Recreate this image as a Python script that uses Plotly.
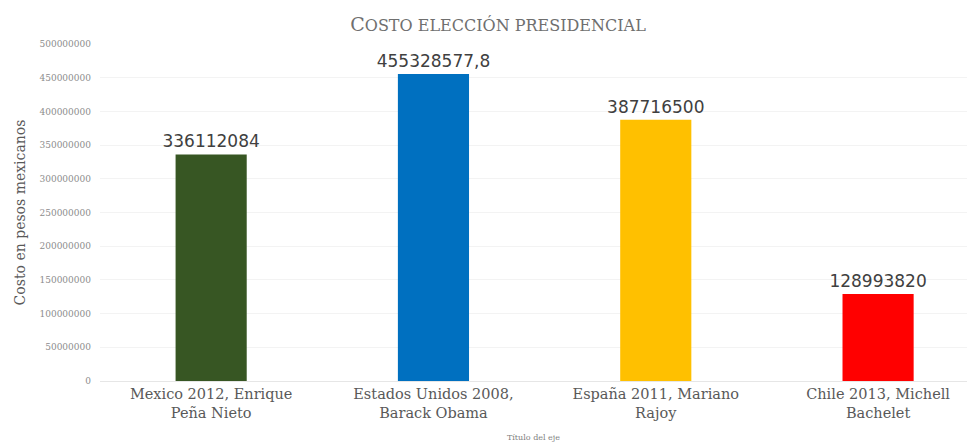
import plotly.graph_objects as go

categories = [
    "Mexico 2012, Enrique<br>Peña Nieto",
    "Estados Unidos 2008,<br>Barack Obama",
    "España 2011, Mariano<br>Rajoy",
    "Chile 2013, Michell<br>Bachelet",
]
costs = [336112084, 455328577.8, 387716500, 128993820]
bar_colors = ["#375623", "#0070C0", "#FFC000", "#FF0000"]
y_ticks = list(range(0, 500000001, 50000000))

SERIF = "DejaVu Serif, serif"


def fmt(v):
    s = f"{v:.1f}".rstrip("0").rstrip(".")
    return s.replace(".", ",")


labels = [fmt(v) for v in costs]

fig = go.Figure(
    go.Bar(
        x=list(range(len(categories))),
        y=costs,
        width=0.32,
        marker=dict(color=bar_colors, line=dict(width=0)),
        text=labels,
        textposition="outside",
        constraintext="none",
        cliponaxis=False,
        textfont=dict(family="DejaVu Sans, sans-serif", size=17, color="#404040"),
    )
)

fig.update_layout(
    width=967,
    height=447,
    margin=dict(l=100, r=0, t=44, b=66),
    paper_bgcolor="white",
    plot_bgcolor="white",
    showlegend=False,
    title=dict(
        text="C<span style='font-size:16px'>OSTO ELECCIÓN PRESIDENCIAL</span>",
        x=0.515,
        xanchor="center",
        y=0.945,
        yanchor="middle",
        font=dict(family=SERIF, size=19, color="#6f6f6f"),
    ),
    xaxis=dict(
        range=[-0.5, 3.4],
        tickvals=list(range(len(categories))),
        ticktext=categories,
        tickfont=dict(family=SERIF, size=14.5, color="#595959"),
        showgrid=False,
        showline=True,
        linecolor="#e6e6e6",
        ticks="",
        title=dict(
            text="Título del eje",
            font=dict(family=SERIF, size=8, color="#7f7f7f"),
            standoff=14,
        ),
    ),
    yaxis=dict(
        range=[0, 500000000],
        tickvals=y_ticks,
        ticktext=[str(v) for v in y_ticks],
        tickfont=dict(family=SERIF, size=9, color="#8c8c8c"),
        showgrid=True,
        gridcolor="#f3f3f3",
        zeroline=False,
        ticks="",
        ticklabelstandoff=8,
        title=dict(
            text="Costo en pesos mexicanos",
            font=dict(family=SERIF, size=14, color="#595959"),
            standoff=10,
        ),
    ),
)

fig.write_html("out.html")
